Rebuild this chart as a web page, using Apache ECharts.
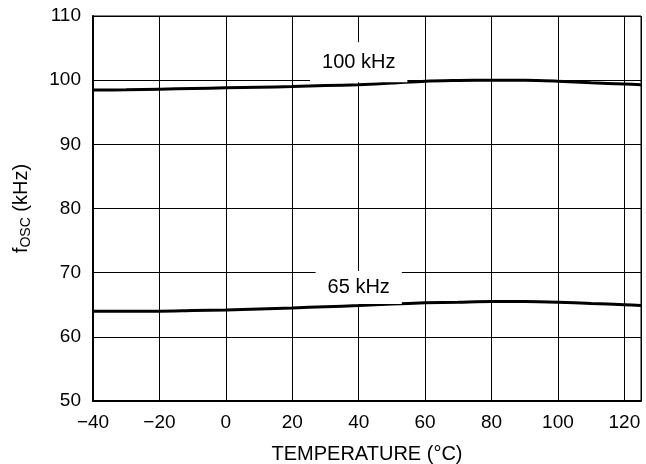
<!DOCTYPE html>
<html>
<head>
<meta charset="utf-8">
<script src="https://cdn.jsdelivr.net/npm/echarts@6/dist/echarts.min.js"></script>
<style>
  html, body { margin: 0; padding: 0; background: #fff; }
  #chart { width: 646px; height: 464px; }
</style>
</head>
<body>
<div id="chart"></div>
<script>
// 温度 (°C)
const temps = [-40, -30, -20, -10, 0, 10, 20, 30, 40, 50, 60, 70, 80, 90, 100, 110, 120, 125]
// 100 kHz 曲线
const f100 = [98.45, 98.5, 98.6, 98.7, 98.8, 98.9, 99.0, 99.15, 99.3, 99.55, 99.85, 99.95, 100.0, 100.0, 99.85, 99.6, 99.4, 99.3]
// 65 kHz 曲线
const f65 = [64.0, 64.0, 64.0, 64.1, 64.2, 64.35, 64.5, 64.7, 64.87, 65.1, 65.3, 65.4, 65.5, 65.5, 65.4, 65.2, 65.0, 64.9]
const curveNames = ['100 kHz', '65 kHz']

const font = 'Liberation Sans, Arial, sans-serif'
const myChart = echarts.init(document.getElementById('chart'))

// 曲线上的文字标签 (白底遮住网格线)
const curveLabel = (name, coord, padding) => ({
  symbol: 'circle',
  symbolSize: 0,
  data: [{ coord: coord, value: name }],
  label: {
    show: true,
    position: 'inside',
    formatter: name,
    color: '#000',
    fontFamily: font,
    fontSize: 20,
    lineHeight: 18,
    backgroundColor: '#fff',
    padding: padding
  }
})

const toPairs = (ys) => temps.map((t, i) => [t, ys[i]])

const option = {
  animation: false,
  grid: {
    left: 93,
    right: 5,
    top: 16,
    bottom: 63,
    outerBoundsMode: 'none',
    show: true,
    borderColor: '#000',
    borderWidth: 1
  },
  xAxis: {
    type: 'value',
    min: -40,
    max: 125,
    interval: 20,
    name: 'TEMPERATURE (°C)',
    nameLocation: 'middle',
    nameGap: 43,
    nameTextStyle: { color: '#000', fontFamily: font, fontSize: 20 },
    axisLine: { onZero: false, lineStyle: { color: '#000', width: 2 } },
    axisTick: { show: false },
    splitLine: { lineStyle: { color: '#000', width: 1 } },
    axisLabel: {
      color: '#000',
      fontFamily: font,
      fontSize: 19,
      margin: 12,
      formatter: (v) => (v > 120 ? '' : String(v).replace('-', '\u2212'))
    }
  },
  yAxis: {
    type: 'value',
    min: 50,
    max: 110,
    interval: 10,
    name: '{f|f}{s|OSC}{n| (kHz)}',
    nameLocation: 'middle',
    nameGap: 60,
    nameTextStyle: {
      color: '#000',
      fontFamily: font,
      rich: {
        f: { fontSize: 20, lineHeight: 24, fontFamily: font, color: '#000' },
        s: { fontSize: 14, lineHeight: 14, verticalAlign: 'bottom', fontFamily: font, color: '#000' },
        n: { fontSize: 20, lineHeight: 24, fontFamily: font, color: '#000' }
      }
    },
    axisLine: { show: true, onZero: false, lineStyle: { color: '#000', width: 2 } },
    axisTick: { show: false },
    splitLine: { lineStyle: { color: '#000', width: 1 } },
    axisLabel: { color: '#000', fontFamily: font, fontSize: 19, margin: 12 }
  },
  series: [
    {
      name: curveNames[0],
      type: 'line',
      data: toPairs(f100),
      smooth: 0.3,
      showSymbol: false,
      lineStyle: { color: '#000', width: 3 },
      markPoint: curveLabel(curveNames[0], [40, 102.8], [14, 12, 8, 12])
    },
    {
      name: curveNames[1],
      type: 'line',
      data: toPairs(f65),
      smooth: 0.3,
      showSymbol: false,
      lineStyle: { color: '#000', width: 3 },
      markPoint: curveLabel(curveNames[1], [40, 67.7], [12, 12, 3, 12])
    }
  ]
}
myChart.setOption(option)
</script>
</body>
</html>
